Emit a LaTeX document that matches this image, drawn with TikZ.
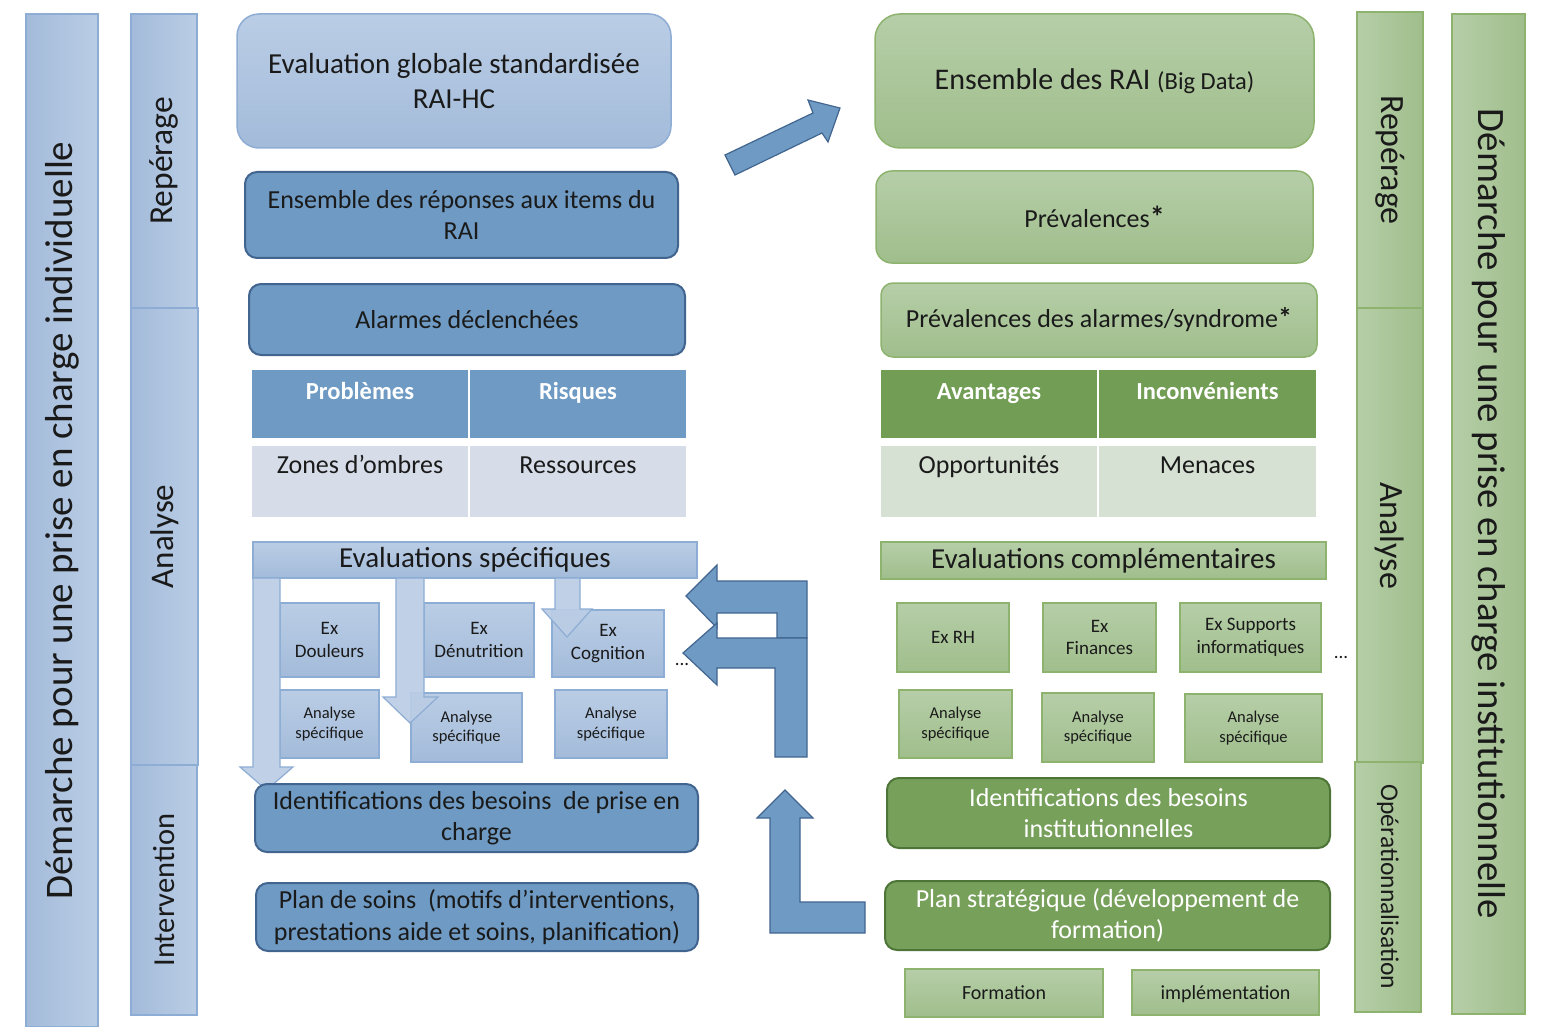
\documentclass[tikz,border=0pt]{standalone}
\usepackage{fontspec}
\setmainfont{Carlito}
\definecolor{lbT}{HTML}{BACDE5}
\definecolor{lbB}{HTML}{A3BBDA}
\definecolor{lbD}{HTML}{8EADD4}
\definecolor{mb}{HTML}{6E9AC3}
\definecolor{mbD}{HTML}{41658F}
\definecolor{tbR}{HTML}{D6DDE9}
\definecolor{lgT}{HTML}{B6CEA8}
\definecolor{lgB}{HTML}{A0BE8C}
\definecolor{lgD}{HTML}{8DB36F}
\definecolor{dg}{HTML}{77A05B}
\definecolor{dgD}{HTML}{4E7538}
\definecolor{tgH}{HTML}{729D55}
\definecolor{tgR}{HTML}{D6E1D3}
\definecolor{txt}{HTML}{1A1A1A}
\begin{document}
\begin{tikzpicture}[x=1pt,y=-1pt,
  every node/.style={inner sep=0pt, outer sep=0pt, text=txt, align=center},
  fs/.style={font={\fontsize{#1}{0}\selectfont\baselineskip=1.2\dimexpr #1pt\relax}},
  fsb/.style={font={\bfseries\fontsize{#1}{0}\selectfont\baselineskip=1.2\dimexpr #1pt\relax}},
  lbbox/.style={draw=lbD, line width=1.5pt, top color=lbT, bottom color=lbB},
  mbbox/.style={draw=mbD, line width=2pt, fill=mb, rounded corners=12pt},
  lgbox/.style={draw=lgD, line width=1.5pt, top color=lgT, bottom color=lgB},
  dgbox/.style={draw=dgD, line width=2pt, fill=dg, rounded corners=12pt, text=white},
  lbarL/.style={draw=lbD, line width=1.2pt, left color=lbB, right color=lbT, rotate=90},
  gbarR/.style={draw=lgD, line width=1.2pt, left color=lgT, right color=lgB, rotate=-90},
  hcell/.style={fill=#1, draw=white, line width=1.5pt},
  blockarrow/.style={fill=mb, draw=mbD, line width=1.2pt, line join=miter},
  lightarrow/.style={fill=lbT, fill opacity=0.92, draw=lbD, line width=1.2pt},
]
\useasboundingbox[fill=white] (0,0) rectangle (1545,1027);

% ---------- left bars
\node[lbarL, fs=39, minimum width=1013, minimum height=72] (barL) at (62,520.5)
  {Démarche pour une prise en charge individuelle};
\node[lbarL, fs=33.5, minimum width=294, minimum height=66] (repL) at (164,161) {Repérage};
\node[lbarL, fs=33, minimum width=457, minimum height=67] (anaL) at (164.5,536.5) {Analyse};
\node[lbarL, fs=30.5, minimum width=250, minimum height=66] (intL) at (164,890) {Intervention};

% ---------- right bars
\node[gbarR, fs=34, minimum width=296, minimum height=66] (repR) at (1390,160) {Repérage};
\node[gbarR, fs=34, minimum width=455, minimum height=66] (anaR) at (1390,535.5) {Analyse};
\node[gbarR, fs=25.5, minimum width=250, minimum height=66] (opR) at (1388,887) {Opérationnalisation};
\node[gbarR, fs=38.8, minimum width=1000, minimum height=73] (barR) at (1488.5,514)
  {Démarche pour une prise en charge institutionnelle};

% ---------- left column
\node[lbbox, rounded corners=22pt, fs=29, minimum width=434, minimum height=134] (evalG) at (454,81)
  {Evaluation globale standardisée\\RAI-HC};
\node[mbbox, fs=26, minimum width=433, minimum height=86] (ensR) at (461.5,215)
  {Ensemble des réponses aux items du\\RAI};
\node[mbbox, fs=26, minimum width=436, minimum height=71] (alarm) at (467,319.5) {Alarmes déclenchées};

\node[hcell=mb, minimum width=218, minimum height=70] (probC) at (360,404) {};
\node[hcell=mb, minimum width=218, minimum height=70] (risqC) at (578,404) {};
\node[hcell=tbR, minimum width=218, minimum height=73] (zonC) at (360,481.5) {};
\node[hcell=tbR, minimum width=218, minimum height=73] (resC) at (578,481.5) {};
\node[fsb=24.5, text=white, anchor=base] (probT) at (360,399) {Problèmes};
\node[fsb=24.5, text=white, anchor=base] (risqT) at (578,399) {Risques};
\node[fs=26, anchor=base] (zonT) at (360,473) {Zones d’ombres};
\node[fs=26, anchor=base] (resT) at (578,473) {Ressources};

\node[lbbox, fs=29, minimum width=444, minimum height=36] (evalS) at (475,560) {Evaluations spécifiques};
\node[lbbox, fs=19, minimum width=99, minimum height=74] (exD) at (329.5,640) {Ex\\Douleurs};
\node[lbbox, fs=19, minimum width=110, minimum height=74] (exDen) at (479,640) {Ex\\Dénutrition};
\node[lbbox, fs=19, minimum width=112, minimum height=67] (exC) at (608,643.5) {Ex\\Cognition};
\node[lbbox, fs=16.5, minimum width=99, minimum height=68] (anD) at (329.5,724) {Analyse\\spécifique};
\node[lbbox, fs=16.5, minimum width=111, minimum height=69] (anDen) at (466.5,727.5) {Analyse\\spécifique};
\node[lbbox, fs=16.5, minimum width=112, minimum height=68] (anC) at (611,724) {Analyse\\spécifique};
\node[fs=19] (dotsL) at (682,664) {...};

% light down arrows
\draw[lightarrow] (253,578) -- (280,578) -- (280,767) -- (293,767) -- (266.5,790) -- (240,767) -- (253,767) -- cycle;
\draw[lightarrow] (396,578) -- (424,578) -- (424,697) -- (438,697) -- (410,723) -- (383,697) -- (396,697) -- cycle;
\draw[lightarrow] (555,578) -- (580,578) -- (580,609) -- (592,609) -- (567,637) -- (542,609) -- (555,609) -- cycle;

\node[mbbox, fs=26, minimum width=443, minimum height=68] (idL) at (476.5,818)
  {Identifications des besoins~ de prise en\\charge};
\node[mbbox, fs=26, minimum width=442, minimum height=68] (planL) at (477,917)
  {Plan de soins~ (motifs d’interventions,\\prestations aide et soins, planification)};

% ---------- right column
\node[lgbox, rounded corners=25pt, fs=30, minimum width=439, minimum height=134] (ensB) at (1094.5,81)
  {Ensemble des RAI {\fontsize{24.5}{29}\selectfont (Big Data)}};
\node[lgbox, rounded corners=16pt, fs=26, minimum width=437, minimum height=92] (prev) at (1094.5,217)
  {Prévalences{\bfseries\fontsize{30}{30}\selectfont*}};
\node[lgbox, rounded corners=12pt, fs=26, minimum width=436, minimum height=74] (prevA) at (1099,320)
  {Prévalences des alarmes/syndrome{\bfseries\fontsize{28}{28}\selectfont*}};

\node[hcell=tgH, minimum width=218, minimum height=70] (avC) at (989,404) {};
\node[hcell=tgH, minimum width=218, minimum height=70] (incC) at (1207.5,404) {};
\node[hcell=tgR, minimum width=218, minimum height=73] (oppC) at (989,481.5) {};
\node[hcell=tgR, minimum width=218, minimum height=73] (menC) at (1207.5,481.5) {};
\node[fsb=24.5, text=white, anchor=base] (avT) at (989,399) {Avantages};
\node[fsb=24.5, text=white, anchor=base] (incT) at (1207.5,399) {Inconvénients};
\node[fs=26, anchor=base] (oppT) at (989,473) {Opportunités};
\node[fs=26, anchor=base] (menT) at (1207.5,473) {Menaces};

\node[lgbox, fs=29, minimum width=445, minimum height=37] (evalC) at (1103.5,560.5) {Evaluations complémentaires};
\node[lgbox, fs=19, minimum width=112, minimum height=69] (exRH) at (953,637.5) {Ex RH};
\node[lgbox, fs=19, minimum width=113, minimum height=69] (exF) at (1099.5,637.5) {Ex\\Finances};
\node[lgbox, fs=19, minimum width=141, minimum height=69] (exS) at (1250.5,637.5) {Ex Supports\\informatiques};
\node[lgbox, fs=16.5, minimum width=113, minimum height=68] (anR1) at (955.5,724) {Analyse\\spécifique};
\node[lgbox, fs=16.5, minimum width=112, minimum height=69] (anR2) at (1098,727.5) {Analyse\\spécifique};
\node[lgbox, fs=16.5, minimum width=137, minimum height=68] (anR3) at (1253.5,728) {Analyse\\spécifique};
\node[fs=19] (dotsR) at (1341,657) {...};

\node[dgbox, fs=26, minimum width=443, minimum height=70] (idR) at (1108.5,813)
  {Identifications des besoins\\institutionnelles};
\node[dgbox, fs=26, minimum width=445, minimum height=69] (planR) at (1107.5,915.5)
  {Plan stratégique (développement de\\formation)};
\node[lgbox, fs=20, minimum width=198, minimum height=48] (form) at (1004,993) {Formation};
\node[lgbox, fs=20, minimum width=187, minimum height=45, text depth=0pt] (impl) at (1225.5,992.5) {implémentation};

% ---------- blue block arrows
\draw[blockarrow] (725,155) -- (813,113) -- (808,100) -- (840,108) -- (828,142) -- (822,133) -- (735,175) -- cycle;
\draw[blockarrow] (807,638) -- (807,581) -- (717,581) -- (717,565) -- (686,596) -- (717,628) -- (717,613) -- (777,613) -- (777,638) -- cycle;
\draw[blockarrow] (807,757) -- (807,638) -- (717,638) -- (717,623) -- (683,653) -- (717,685) -- (717,668) -- (775,668) -- (775,757) -- cycle;
\draw[blockarrow] (785,790) -- (813,818) -- (800,818) -- (800,902) -- (865,902) -- (865,933) -- (770,933) -- (770,818) -- (757,818) -- cycle;
\end{tikzpicture}
\end{document}
